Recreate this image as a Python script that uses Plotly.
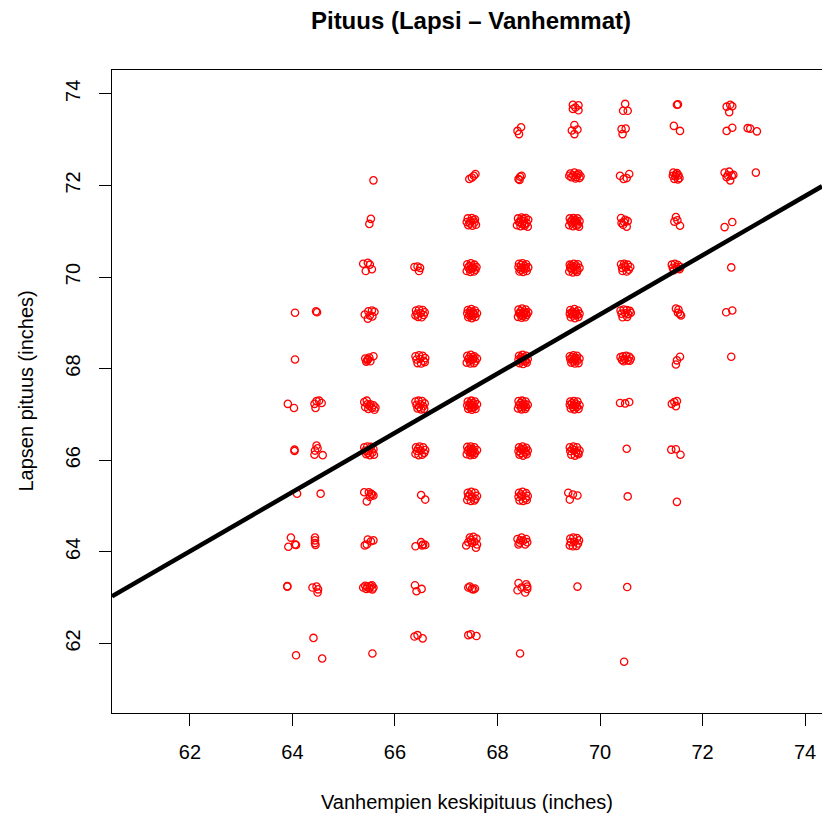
import plotly.graph_objects as go

# ---- data: jittered (parent, child) points, grouped by child height ----
row_73_7 = [(69.47, 73.76), (69.58, 73.75), (69.47, 73.67), (69.58, 73.64), (69.52, 73.70),
            (70.49, 73.78), (70.45, 73.63), (70.54, 73.63),
            (71.50, 73.76), (71.52, 73.77),
            (72.47, 73.72), (72.54, 73.76), (72.58, 73.73), (72.52, 73.60)]

row_73_2 = [(68.46, 73.27), (68.39, 73.19), (68.42, 73.12),
            (69.50, 73.32), (69.45, 73.20), (69.56, 73.22), (69.50, 73.12),
            (70.42, 73.23), (70.50, 73.24), (70.44, 73.12),
            (71.44, 73.30), (71.56, 73.19),
            (72.47, 73.19), (72.58, 73.26),
            (72.88, 73.25), (72.93, 73.24), (73.06, 73.18)]

row_72_2 = [(65.58, 72.11),
            (67.45, 72.14), (67.50, 72.17), (67.54, 72.21), (67.57, 72.25),
            (68.41, 72.14), (68.44, 72.19), (68.47, 72.21), (68.43, 72.12),
            (69.42, 72.26), (69.50, 72.28), (69.58, 72.26), (69.44, 72.18), (69.54, 72.18), (69.62, 72.20),
            (69.48, 72.22), (69.56, 72.23), (69.40, 72.21), (69.52, 72.15), (69.60, 72.16),
            (70.39, 72.21), (70.46, 72.14), (70.52, 72.16), (70.57, 72.25),
            (71.43, 72.28), (71.50, 72.27), (71.42, 72.21), (71.47, 72.20), (71.53, 72.22),
            (71.55, 72.16), (71.45, 72.14), (71.52, 72.13), (71.48, 72.24),
            (72.43, 72.28), (72.52, 72.30), (72.47, 72.18), (72.57, 72.21), (72.54, 72.11),
            (72.60, 72.23), (72.49, 72.22),
            (73.04, 72.28)]

row_71_2 = [(65.53, 71.27), (65.50, 71.16),
            (67.42, 71.28), (67.50, 71.29), (67.56, 71.26), (67.40, 71.20), (67.47, 71.22), (67.55, 71.19),
            (67.43, 71.13), (67.51, 71.12), (67.58, 71.14), (67.46, 71.17), (67.53, 71.24),
            (68.40, 71.28), (68.47, 71.30), (68.55, 71.29), (68.60, 71.25), (68.42, 71.20), (68.50, 71.22),
            (68.57, 71.18), (68.38, 71.13), (68.45, 71.11), (68.53, 71.12), (68.59, 71.10), (68.48, 71.16),
            (68.46, 71.24), (68.53, 71.16), (68.44, 71.19), (68.51, 71.27),
            (69.41, 71.28), (69.48, 71.29), (69.56, 71.28), (69.60, 71.22), (69.43, 71.21), (69.50, 71.20),
            (69.57, 71.15), (69.40, 71.13), (69.47, 71.11), (69.54, 71.12), (69.59, 71.10), (69.51, 71.25),
            (69.46, 71.17), (69.53, 71.23), (69.45, 71.24), (69.55, 71.19),
            (70.41, 71.29), (70.49, 71.25), (70.54, 71.22), (70.45, 71.14), (70.52, 71.10), (70.42, 71.18),
            (70.47, 71.20),
            (71.48, 71.31), (71.45, 71.21), (71.51, 71.24), (71.56, 71.12),
            (72.43, 71.09), (72.58, 71.20)]

row_70_2 = [(65.38, 70.29), (65.47, 70.31), (65.51, 70.27), (65.43, 70.13), (65.55, 70.17),
            (66.38, 70.22), (66.44, 70.23), (66.49, 70.20), (66.47, 70.13),
            (67.41, 70.28), (67.48, 70.30), (67.55, 70.27), (67.59, 70.22), (67.43, 70.21), (67.50, 70.19),
            (67.57, 70.16), (67.40, 70.13), (67.47, 70.11), (67.54, 70.12), (67.45, 70.24), (67.52, 70.23),
            (67.46, 70.17), (67.53, 70.20),
            (68.42, 70.29), (68.49, 70.30), (68.56, 70.28), (68.60, 70.21), (68.41, 70.22), (68.48, 70.20),
            (68.55, 70.18), (68.43, 70.12), (68.50, 70.11), (68.57, 70.13), (68.46, 70.26), (68.53, 70.24),
            (68.45, 70.16), (68.52, 70.19),
            (69.41, 70.27), (69.49, 70.29), (69.57, 70.28), (69.60, 70.20), (69.42, 70.20), (69.50, 70.22),
            (69.56, 70.15), (69.40, 70.12), (69.47, 70.10), (69.55, 70.11), (69.45, 70.17), (69.53, 70.25),
            (69.47, 70.23), (69.52, 70.16), (69.44, 70.25),
            (70.41, 70.28), (70.47, 70.29), (70.54, 70.27), (70.59, 70.22), (70.43, 70.20), (70.50, 70.21),
            (70.56, 70.16), (70.44, 70.13), (70.52, 70.12), (70.48, 70.24),
            (71.40, 70.27), (71.46, 70.29), (71.52, 70.26), (71.57, 70.22), (71.42, 70.20), (71.49, 70.22),
            (71.55, 70.17), (71.44, 70.15), (71.51, 70.18),
            (72.56, 70.21)]

row_69_2 = [(64.05, 69.22),
            (64.46, 69.25), (64.48, 69.23),
            (65.41, 69.18), (65.48, 69.25), (65.55, 69.27), (65.60, 69.24), (65.51, 69.16), (65.47, 69.09),
            (65.56, 69.14),
            (66.41, 69.27), (66.47, 69.29), (66.54, 69.28), (66.58, 69.23), (66.43, 69.20), (66.50, 69.21),
            (66.56, 69.17), (66.45, 69.13), (66.52, 69.12), (66.40, 69.16),
            (67.42, 69.28), (67.49, 69.30), (67.56, 69.27), (67.60, 69.21), (67.41, 69.21), (67.48, 69.19),
            (67.55, 69.18), (67.43, 69.12), (67.50, 69.10), (67.57, 69.13), (67.46, 69.25), (67.52, 69.23),
            (67.45, 69.16), (67.53, 69.20), (67.47, 69.22), (67.51, 69.15),
            (68.41, 69.29), (68.48, 69.31), (68.55, 69.29), (68.60, 69.23), (68.42, 69.21), (68.50, 69.22),
            (68.57, 69.17), (68.40, 69.13), (68.47, 69.11), (68.54, 69.12), (68.45, 69.25), (68.52, 69.19),
            (68.46, 69.17), (68.53, 69.24), (68.49, 69.15), (68.44, 69.21), (68.56, 69.21),
            (69.42, 69.28), (69.50, 69.30), (69.57, 69.27), (69.60, 69.20), (69.41, 69.20), (69.49, 69.21),
            (69.55, 69.17), (69.43, 69.12), (69.51, 69.10), (69.58, 69.13), (69.46, 69.24), (69.53, 69.23),
            (69.47, 69.16), (69.52, 69.19), (69.45, 69.20),
            (70.40, 69.27), (70.46, 69.29), (70.52, 69.28), (70.58, 69.26), (70.42, 69.20), (70.49, 69.21),
            (70.55, 69.19), (70.60, 69.22), (70.44, 69.12), (70.53, 69.13),
            (71.48, 69.31), (71.53, 69.29), (71.56, 69.19), (71.58, 69.16), (71.52, 69.22),
            (72.46, 69.23), (72.58, 69.27)]

row_68_2 = [(64.05, 68.20),
            (65.42, 68.22), (65.46, 68.18), (65.50, 68.24), (65.58, 68.27), (65.44, 68.15), (65.52, 68.16),
            (65.47, 68.21),
            (66.40, 68.27), (66.47, 68.29), (66.54, 68.28), (66.59, 68.23), (66.42, 68.20), (66.49, 68.21),
            (66.56, 68.17), (66.44, 68.12), (66.51, 68.11), (66.58, 68.14),
            (67.41, 68.28), (67.48, 68.30), (67.55, 68.27), (67.60, 68.22), (67.43, 68.21), (67.50, 68.19),
            (67.57, 68.16), (67.40, 68.13), (67.47, 68.11), (67.54, 68.12), (67.45, 68.24), (67.52, 68.25),
            (67.46, 68.17), (67.53, 68.21),
            (68.42, 68.28), (68.49, 68.30), (68.56, 68.28), (68.59, 68.21), (68.41, 68.20), (68.48, 68.22),
            (68.55, 68.16), (68.43, 68.12), (68.50, 68.10), (68.57, 68.13), (68.46, 68.25), (68.53, 68.18),
            (68.45, 68.16), (68.52, 68.24), (68.49, 68.19),
            (69.41, 68.27), (69.48, 68.29), (69.55, 68.28), (69.60, 68.22), (69.42, 68.21), (69.49, 68.20),
            (69.56, 68.17), (69.44, 68.13), (69.51, 68.11), (69.58, 68.12), (69.46, 68.25), (69.53, 68.23),
            (69.47, 68.16), (69.52, 68.19),
            (70.40, 68.25), (70.45, 68.27), (70.51, 68.28), (70.57, 68.26), (70.60, 68.22), (70.43, 68.19),
            (70.48, 68.21), (70.54, 68.18), (70.58, 68.17), (70.46, 68.16),
            (71.56, 68.26), (71.50, 68.18), (71.48, 68.09),
            (72.56, 68.26)]

row_67_2 = [(63.91, 67.23), (64.03, 67.14),
            (64.43, 67.23), (64.47, 67.29), (64.52, 67.30), (64.57, 67.25), (64.45, 67.14),
            (65.40, 67.27), (65.45, 67.30), (65.52, 67.22), (65.58, 67.20), (65.42, 67.16), (65.48, 67.12),
            (65.55, 67.14), (65.62, 67.15), (65.46, 67.22), (65.50, 67.19), (65.60, 67.10),
            (66.40, 67.28), (66.46, 67.30), (66.53, 67.29), (66.58, 67.24), (66.42, 67.21), (66.49, 67.22),
            (66.55, 67.18), (66.44, 67.13), (66.51, 67.11), (66.57, 67.12), (66.47, 67.16),
            (67.42, 67.28), (67.49, 67.30), (67.56, 67.28), (67.60, 67.22), (67.41, 67.20), (67.48, 67.21),
            (67.55, 67.17), (67.43, 67.12), (67.50, 67.10), (67.57, 67.12), (67.46, 67.24), (67.52, 67.16),
            (67.45, 67.17), (67.53, 67.24), (67.49, 67.14), (67.51, 67.20),
            (68.41, 67.29), (68.48, 67.30), (68.55, 67.28), (68.59, 67.21), (68.42, 67.20), (68.49, 67.22),
            (68.56, 67.16), (68.40, 67.13), (68.47, 67.11), (68.54, 67.12), (68.45, 67.25), (68.52, 67.18),
            (68.46, 67.16), (68.53, 67.23), (68.50, 67.19),
            (69.42, 67.28), (69.49, 67.29), (69.56, 67.28), (69.60, 67.20), (69.41, 67.21), (69.48, 67.20),
            (69.55, 67.16), (69.43, 67.13), (69.50, 67.11), (69.58, 67.12), (69.45, 67.24), (69.53, 67.23),
            (69.47, 67.16), (69.52, 67.19),
            (70.39, 67.25), (70.49, 67.24), (70.57, 67.27),
            (71.40, 67.23), (71.45, 67.27), (71.50, 67.29), (71.48, 67.18)]

row_66_2 = [(64.04, 66.23), (64.04, 66.20),
            (64.47, 66.32), (64.44, 66.21), (64.49, 66.26), (64.43, 66.12), (64.59, 66.11),
            (65.40, 66.28), (65.46, 66.30), (65.53, 66.29), (65.58, 66.24), (65.42, 66.21), (65.49, 66.20),
            (65.56, 66.17), (65.44, 66.13), (65.51, 66.11), (65.59, 66.12), (65.47, 66.16),
            (66.41, 66.28), (66.48, 66.30), (66.55, 66.28), (66.59, 66.22), (66.43, 66.20), (66.50, 66.21),
            (66.57, 66.16), (66.40, 66.14), (66.46, 66.11), (66.53, 66.12), (66.45, 66.25),
            (67.41, 66.29), (67.48, 66.30), (67.55, 66.28), (67.60, 66.22), (67.42, 66.21), (67.49, 66.20),
            (67.56, 66.16), (67.40, 66.13), (67.47, 66.11), (67.54, 66.12), (67.45, 66.25), (67.52, 66.24),
            (67.46, 66.17), (67.53, 66.19), (67.50, 66.15), (67.48, 66.24),
            (68.42, 66.28), (68.49, 66.30), (68.56, 66.27), (68.59, 66.21), (68.41, 66.20), (68.48, 66.22),
            (68.55, 66.17), (68.43, 66.12), (68.50, 66.10), (68.57, 66.13), (68.46, 66.25), (68.53, 66.19),
            (68.45, 66.16), (68.52, 66.24),
            (69.41, 66.28), (69.48, 66.30), (69.55, 66.28), (69.60, 66.21), (69.42, 66.20), (69.50, 66.22),
            (69.57, 66.16), (69.44, 66.12), (69.51, 66.10), (69.58, 66.13), (69.46, 66.24), (69.53, 66.18),
            (70.52, 66.25),
            (71.39, 66.23), (71.48, 66.24), (71.57, 66.12)]

row_65_2 = [(64.09, 65.27),
            (64.55, 65.27),
            (65.40, 65.30), (65.49, 65.30), (65.55, 65.25), (65.58, 65.23), (65.51, 65.20), (65.45, 65.10),
            (65.53, 65.27),
            (66.51, 65.24), (66.59, 65.14),
            (67.42, 65.29), (67.49, 65.31), (67.56, 65.29), (67.60, 65.22), (67.43, 65.21), (67.50, 65.20),
            (67.57, 65.16), (67.41, 65.13), (67.48, 65.11), (67.55, 65.12), (67.46, 65.25),
            (68.42, 65.29), (68.49, 65.31), (68.56, 65.28), (68.59, 65.22), (68.41, 65.20), (68.48, 65.21),
            (68.55, 65.17), (68.43, 65.12), (68.50, 65.11), (68.57, 65.13), (68.46, 65.25),
            (69.38, 65.29), (69.41, 65.14), (69.47, 65.25), (69.56, 65.23),
            (70.54, 65.21),
            (71.50, 65.09)]

row_64_2 = [(63.97, 64.31), (63.92, 64.11), (64.05, 64.16), (64.07, 64.15),
            (64.44, 64.31), (64.44, 64.25), (64.44, 64.19), (64.45, 64.15),
            (65.41, 64.14), (65.45, 64.16), (65.47, 64.27), (65.53, 64.23), (65.58, 64.25),
            (66.40, 64.12), (66.51, 64.21), (66.55, 64.16), (66.59, 64.15), (66.53, 64.14),
            (67.39, 64.14), (67.46, 64.31), (67.53, 64.33), (67.59, 64.29), (67.50, 64.20), (67.58, 64.09),
            (67.43, 64.21), (67.60, 64.16), (67.48, 64.26), (67.55, 64.22),
            (68.39, 64.28), (68.47, 64.31), (68.56, 64.28), (68.43, 64.20), (68.58, 64.21), (68.41, 64.16),
            (68.54, 64.16), (68.50, 64.24), (68.45, 64.25),
            (69.42, 64.29), (69.48, 64.31), (69.55, 64.30), (69.59, 64.25), (69.43, 64.21), (69.50, 64.22),
            (69.57, 64.18), (69.41, 64.14), (69.47, 64.12), (69.54, 64.13)]

row_63_2 = [(63.90, 63.25), (63.90, 63.24),
            (64.39, 63.22), (64.47, 63.24), (64.50, 63.18), (64.49, 63.11),
            (65.38, 63.22), (65.42, 63.26), (65.46, 63.24), (65.50, 63.20), (65.55, 63.27), (65.58, 63.22),
            (65.44, 63.19), (65.52, 63.25), (65.56, 63.18),
            (66.39, 63.27), (66.42, 63.14), (66.52, 63.19),
            (67.43, 63.22), (67.50, 63.19), (67.56, 63.20), (67.46, 63.24), (67.53, 63.18),
            (68.41, 63.32), (68.56, 63.29), (68.58, 63.24), (68.39, 63.16), (68.54, 63.11), (68.47, 63.22),
            (68.58, 63.19),
            (69.56, 63.24),
            (70.53, 63.23)]

row_62_2 = [(64.41, 62.12),
            (66.38, 62.15), (66.44, 62.18), (66.54, 62.11),
            (67.43, 62.18), (67.48, 62.20), (67.59, 62.16)]

row_61_7 = [(64.07, 61.74), (64.58, 61.67), (65.56, 61.78), (68.44, 61.78), (70.47, 61.60)]

# regression line child ~ parent
INTERCEPT = 23.9415
SLOPE = 0.6463

x_ticks = [62, 64, 66, 68, 70, 72, 74]
y_ticks = [62, 64, 66, 68, 70, 72, 74]
XLIM = [60.48, 74.33]
YLIM = [60.48, 74.52]

TITLE = "Pituus (Lapsi – Vanhemmat)"
XLAB = "Vanhempien keskipituus (inches)"
YLAB = "Lapsen pituus (inches)"

rows = [row_61_7, row_62_2, row_63_2, row_64_2, row_65_2, row_66_2, row_67_2,
        row_68_2, row_69_2, row_70_2, row_71_2, row_72_2, row_73_2, row_73_7]
parent = [p for r in rows for p, c in r]
child = [c for r in rows for p, c in r]

FONT = "Liberation Sans, Arial, Helvetica, sans-serif"

fig = go.Figure()
fig.add_trace(go.Scatter(
    x=parent, y=child, mode="markers",
    marker=dict(symbol="circle-open", size=7.3, color="#FF0000", line=dict(width=1.3, color="#FF0000")),
    showlegend=False, hoverinfo="skip"))

line_x = XLIM
line_y = [INTERCEPT + SLOPE * v for v in line_x]
fig.add_trace(go.Scatter(
    x=line_x, y=line_y, mode="lines",
    line=dict(color="black", width=4.5), showlegend=False, hoverinfo="skip"))

W, H = 822, 814
L, R, T, B = 112, 0, 70, 101
PW, PH = W - L - R, H - T - B

fig.update_layout(
    width=W, height=H, autosize=False,
    margin=dict(l=L, r=R, t=T, b=B, pad=0),
    paper_bgcolor="white", plot_bgcolor="white",
    font=dict(family=FONT, size=20, color="black"),
    title=dict(text="<b>" + TITLE + "</b>", font=dict(size=24, family=FONT, color="black"),
               x=471 / W, xanchor="center", xref="container",
               y=1 - 21 / H, yanchor="middle", yref="container"),
    xaxis=dict(range=XLIM, tickvals=x_ticks, ticktext=[str(v) for v in x_ticks],
               showgrid=False, zeroline=False, showline=True, mirror=True,
               linecolor="black", linewidth=1, ticks="outside", ticklen=12, tickwidth=1,
               tickcolor="black", tickfont=dict(size=20, family=FONT), ticklabelstandoff=9),
    yaxis=dict(range=YLIM, tickvals=y_ticks, ticktext=[str(v) for v in y_ticks],
               showgrid=False, zeroline=False, showline=True, mirror=False,
               linecolor="black", linewidth=1, ticks="outside", ticklen=12, tickwidth=1,
               tickcolor="black", tickangle=-90, tickfont=dict(size=20, family=FONT),
               ticklabelstandoff=11),
    annotations=[
        dict(text=XLAB, xref="paper", yref="paper", x=(467 - L) / PW,
             y=(713 - 802) / PH, xanchor="center", yanchor="middle",
             showarrow=False, font=dict(size=20, family=FONT, color="black")),
        dict(text=YLAB, xref="paper", yref="paper", x=(25 - L) / PW,
             y=0.5, xanchor="center", yanchor="middle", textangle=-90,
             showarrow=False, font=dict(size=20, family=FONT, color="black")),
    ],
)

# remove the browser's default page margin so the figure fills the window exactly
fig.write_html("out.html",
               config={"displayModeBar": False},
               post_script="document.body.style.margin='0';document.body.style.overflow='hidden';")
